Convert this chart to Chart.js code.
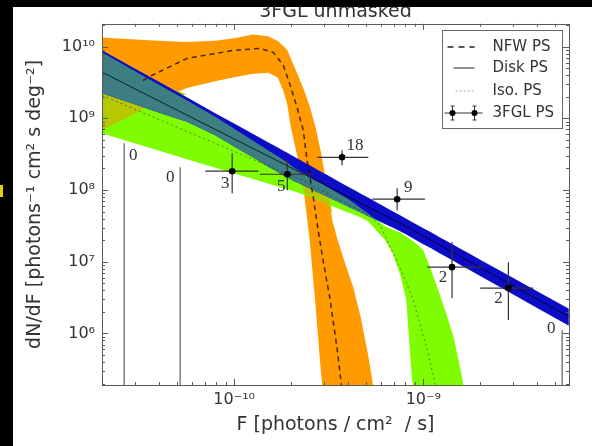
<!DOCTYPE html>
<html><head><meta charset="utf-8">
<script src="https://cdn.jsdelivr.net/npm/chart.js@4.4.1/dist/chart.umd.min.js"></script>
<style>html,body{margin:0;padding:0;background:#000;}canvas{display:block;}</style>
</head><body>
<canvas id="c" width="592" height="446"></canvas>
<script>
// ---------- axis ranges & ticks ----------
const xMin = 2.0e-11, xMax = 5.9e-9;
const yMin = 1.91e5, yMax = 2.08e10;
const xTickValues = [1e-10, 1e-9];
const xTickLabels = ['10\u207B\u00B9\u2070', '10\u207B\u2079'];
const yTickValues = [1e6, 1e7, 1e8, 1e9, 1e10];
const yTickLabels = ['10\u2076', '10\u2077', '10\u2078', '10\u2079', '10\u00B9\u2070'];

// ---------- common flux grid for the bands ----------
const gridX = [2.00e-11, 2.82e-11, 3.98e-11, 5.62e-11, 7.94e-11, 1.00e-10, 1.26e-10, 1.51e-10, 1.70e-10, 1.82e-10,
  1.91e-10, 2.00e-10, 2.09e-10, 2.19e-10, 2.34e-10, 2.51e-10, 2.69e-10, 2.88e-10, 3.09e-10, 3.31e-10,
  3.55e-10, 3.89e-10, 4.27e-10, 4.68e-10, 5.13e-10, 5.62e-10, 6.31e-10, 6.92e-10, 7.59e-10, 8.13e-10,
  8.71e-10, 9.33e-10, 1.00e-9, 1.10e-9, 1.20e-9, 1.32e-9, 1.45e-9, 1.58e-9, 1.74e-9, 2.00e-9,
  2.82e-9, 3.98e-9, 5.89e-9];

// NFW PS band (orange)
const nfwHi = [1.34e10, 1.27e10, 1.21e10, 1.16e10, 1.21e10, 1.31e10, 1.48e10, 1.40e10, 1.20e10, 1.02e10,
  8.88e9, 6.74e9, 5.08e9, 3.83e9, 2.49e9, 1.46e9, 7.71e8, 3.33e8, 1.14e8, 3.66e7,
  1.88e7, 9.00e6, 4.32e6, 1.64e6, 4.75e5, 1.06e5, 5e4, 5e4, 5e4, 5e4,
  5e4, 5e4, 5e4, 5e4, 5e4, 5e4, 5e4, 5e4, 5e4, 5e4,
  5e4, 5e4, 5e4];
const nfwLo = [6.81e8, 1.08e9, 1.77e9, 2.64e9, 3.30e9, 3.75e9, 4.18e9, 4.32e9, 3.70e9, 2.42e9,
  1.54e9, 7.23e8, 4.34e8, 2.48e8, 9.17e7, 1.98e7, 2.58e6, 2.78e5, 5e4, 5e4,
  5e4, 5e4, 5e4, 5e4, 5e4, 5e4, 5e4, 5e4, 5e4, 5e4,
  5e4, 5e4, 5e4, 5e4, 5e4, 5e4, 5e4, 5e4, 5e4, 5e4,
  5e4, 5e4, 5e4];

// Iso PS band (green)
const isoHi = [8.31e9, 4.97e9, 2.97e9, 1.78e9, 1.05e9, 7.14e8, 4.86e8, 3.58e8, 2.96e8, 2.62e8,
  2.42e8, 2.19e8, 2.03e8, 1.89e8, 1.70e8, 1.53e8, 1.37e8, 1.24e8, 1.12e8, 1.00e8,
  9.03e7, 7.84e7, 6.70e7, 5.58e7, 4.65e7, 3.87e7, 3.09e7, 2.80e7, 2.54e7, 2.24e7,
  1.97e7, 1.73e7, 1.45e7, 7.74e6, 4.03e6, 1.93e6, 8.77e5, 3.00e5, 8.04e4, 5e4,
  5e4, 5e4, 5e4];
const isoLo = [6.18e8, 4.69e8, 3.56e8, 2.69e8, 2.04e8, 1.70e8, 1.42e8, 1.23e8, 1.12e8, 1.06e8,
  1.02e8, 9.87e7, 9.50e7, 9.17e7, 8.57e7, 7.96e7, 7.40e7, 6.87e7, 6.40e7, 5.95e7,
  5.53e7, 5.02e7, 4.54e7, 4.13e7, 3.64e7, 2.77e7, 1.98e7, 1.27e7, 6.34e6, 2.92e6,
  2.39e5, 5e4, 5e4, 5e4, 5e4, 5e4, 5e4, 5e4, 5e4, 5e4,
  5e4, 5e4, 5e4];

// Disk PS band (blue)
const diskHi = [8.89e9, 5.37e9, 3.25e9, 1.96e9, 1.18e9, 8.46e8, 6.05e8, 4.62e8, 3.91e8, 3.53e8,
  3.30e8, 3.09e8, 2.89e8, 2.70e8, 2.44e8, 2.21e8, 1.99e8, 1.80e8, 1.63e8, 1.47e8,
  1.33e8, 1.16e8, 1.02e8, 8.90e7, 7.78e7, 6.80e7, 5.75e7, 5.03e7, 4.40e7, 3.97e7,
  3.59e7, 3.25e7, 2.94e7, 2.57e7, 2.24e7, 1.96e7, 1.71e7, 1.50e7, 1.31e7, 1.07e7,
  6.47e6, 3.91e6, 2.21e6];
const diskLo = [2.24e9, 1.65e9, 1.21e9, 8.93e8, 5.81e8, 4.06e8, 2.84e8, 2.13e8, 1.78e8, 1.60e8,
  1.49e8, 1.40e8, 1.32e8, 1.25e8, 1.15e8, 1.05e8, 9.65e7, 8.86e7, 8.12e7, 7.46e7,
  6.84e7, 6.10e7, 5.44e7, 4.85e7, 4.32e7, 3.85e7, 3.34e7, 2.98e7, 2.65e7, 2.39e7,
  2.16e7, 1.95e7, 1.76e7, 1.54e7, 1.34e7, 1.17e7, 1.02e7, 8.92e6, 7.78e6, 6.34e6,
  3.80e6, 2.28e6, 1.28e6];

// median curves
const nfwMedX = [3.30e-11, 3.59e-11, 5.64e-11, 9.88e-11, 1.37e-10, 1.61e-10, 1.82e-10, 1.98e-10, 2.15e-10,
  2.32e-10, 2.43e-10, 2.62e-10, 2.78e-10, 2.92e-10, 3.22e-10, 3.51e-10, 3.68e-10, 3.77e-10];
const nfwMedY = [3.36e9, 3.85e9, 6.85e9, 8.85e9, 9.44e9, 8.31e9, 5.47e9, 2.88e9, 1.42e9,
  6.81e8, 2.60e8, 7.94e7, 2.75e7, 1.24e7, 2.92e6, 5.87e5, 2.04e5, 1.01e5];
const diskMedX = [2.00e-11, 2.00e-10, 7.59e-10, 5.89e-9];
const diskMedY = [4.40e9, 2.05e8, 3.43e7, 1.71e6];
const isoMedX = [2.00e-11, 2.23e-10, 5.05e-10, 5.92e-10, 6.69e-10, 7.56e-10, 8.85e-10, 1.05e-9, 1.16e-9, 1.19e-9];
const isoMedY = [2.09e9, 1.41e8, 4.60e7, 3.23e7, 1.60e7, 8.14e6, 2.92e6, 5.87e5, 1.91e5, 8.58e4];

// 3FGL point sources (binned)
const binX = [2.62e-11, 5.18e-11, 9.76e-11, 1.91e-10, 3.72e-10, 7.28e-10, 1.42e-9, 2.82e-9, 5.43e-9];
const binLo = [null, null, 7.03e-11, 1.37e-10, 2.75e-10, 5.37e-10, 1.05e-9, 2.00e-9, null];
const binHi = [null, null, 1.34e-10, 2.62e-10, 5.12e-10, 1.02e-9, 2.08e-9, 3.82e-9, null];
const counts = [0, 0, 3, 5, 18, 9, 2, 2, 0];
const ptY = [null, null, 1.83e8, 1.66e8, 2.86e8, 7.45e7, 8.4e6, 4.29e6, null];
const errLo = [null, null, 9.0e7, 9.9e7, 2.21e8, 5.24e7, 3.11e6, 1.54e6, null];
const errHi = [4.49e8, 2.08e8, 3.26e8, 2.68e8, 3.58e8, 1.06e8, 1.88e7, 9.87e6, 1.11e6];

const legendLabels = ['NFW PS', 'Disk PS', 'Iso. PS', '3FGL PS'];

// ---------- styles ----------
const labelDX = [9, -10, -7, -6, 13, 11, -9, -10, -11];
const labelDY = [12, 10, 12, 12, -12, -12, 10, 10, -2];
const C = {orange:'#ff9a00', lime:'#80fc00', olive:'#b6c800', blue:'#0c0cc6', teal:'#3c7e82'};

// ---------- derived tables ----------
const pts = (xs, ys) => xs.map((x, i) => ({x, y: ys[i]}));
function overlap(aHi, aLo, bHi, bLo) {
  const hi = [], lo = [];
  for (let i = 0; i < gridX.length; i++) {
    let h = Math.min(aHi[i], bHi[i]), l = Math.max(aLo[i], bLo[i]);
    if (h < l) { const m = Math.sqrt(h * l); h = m; l = m; }
    hi.push(h); lo.push(l);
  }
  return {hi, lo};
}
const teal = overlap(diskHi, diskLo, isoHi, isoLo);
const olive = overlap(nfwHi, nfwLo, isoHi, isoLo);

const errData = [], zeroData = [], ptData = [];
binX.forEach((bx, i) => {
  if (counts[i] === 0) {
    zeroData.push({x: bx, y: yMin / 3}, {x: bx, y: errHi[i]}, {x: bx, y: null});
  } else {
    errData.push({x: bx, y: errLo[i]}, {x: bx, y: errHi[i]}, {x: bx, y: null},
                 {x: binLo[i], y: ptY[i]}, {x: binHi[i], y: ptY[i]}, {x: binHi[i], y: null});
    ptData.push({x: bx, y: ptY[i]});
  }
});

const band = (data, color, order, fillPrev) => ({
  data, order, borderColor: 'rgba(0,0,0,0)', borderWidth: 0, pointRadius: 0,
  fill: fillPrev ? '-1' : false, backgroundColor: color || 'rgba(0,0,0,0)'
});

const datasets = [
  band(pts(gridX, nfwHi), null, 100, false),
  band(pts(gridX, nfwLo), C.orange, 99, true),
  band(pts(gridX, isoHi), null, 98, false),
  band(pts(gridX, isoLo), C.lime, 97, true),
  band(pts(gridX, olive.hi), null, 96, false),
  band(pts(gridX, olive.lo), C.olive, 95, true),
  band(pts(gridX, diskHi), null, 94, false),
  band(pts(gridX, diskLo), C.blue, 93, true),
  band(pts(gridX, teal.hi), null, 92, false),
  band(pts(gridX, teal.lo), C.teal, 91, true),
  {data: pts(nfwMedX, nfwMedY), order: 50, borderColor: 'rgba(40,20,0,0.85)', borderWidth: 1.5, borderDash: [5, 4], pointRadius: 0, fill: false},
  {data: pts(diskMedX, diskMedY), order: 49, borderColor: 'rgba(0,0,0,0.75)', borderWidth: 1, pointRadius: 0, fill: false},
  {data: pts(isoMedX, isoMedY), order: 48, borderColor: 'rgba(40,40,40,0.55)', borderWidth: 1, borderDash: [2, 3], pointRadius: 0, fill: false},
  {data: zeroData, order: 20, borderColor: '#808080', borderWidth: 1.5, pointRadius: 0, fill: false, spanGaps: false},
  {data: errData, order: 10, borderColor: '#333', borderWidth: 1.2, pointRadius: 0, fill: false, spanGaps: false},
  {data: ptData, order: 5, showLine: false, pointRadius: 3.3, pointBackgroundColor: '#000', pointBorderColor: '#000', pointBorderWidth: 0, fill: false}
];

const deco = {
  id: 'deco',
  beforeDraw(chart) {
    const {ctx, width, height} = chart;
    ctx.save(); ctx.fillStyle = '#fff'; ctx.fillRect(0, 0, width, height); ctx.restore();
  },
  afterDatasetsDraw(chart) {
    const {ctx, chartArea: ca, scales} = chart;
    const xs = scales.x, ys = scales.y;
    ctx.save();
    ctx.strokeStyle = '#5a5a5a'; ctx.lineWidth = 1;
    const ticks = (scale, horiz) => {
      const lo = Math.floor(Math.log10(scale.min)), hi = Math.ceil(Math.log10(scale.max));
      for (let e = lo; e <= hi; e++) for (let m = 1; m <= 9; m++) {
        const v = m * Math.pow(10, e);
        if (v < scale.min || v > scale.max) continue;
        const p = Math.round(scale.getPixelForValue(v)) + 0.5;
        const L = m === 1 ? 6 : 3;
        ctx.beginPath();
        if (horiz) { ctx.moveTo(p, ca.bottom); ctx.lineTo(p, ca.bottom - L); ctx.moveTo(p, ca.top); ctx.lineTo(p, ca.top + L); }
        else { ctx.moveTo(ca.left, p); ctx.lineTo(ca.left + L, p); ctx.moveTo(ca.right, p); ctx.lineTo(ca.right - L, p); }
        ctx.stroke();
      }
    };
    ticks(xs, true); ticks(ys, false);
    ctx.strokeRect(Math.round(ca.left) + 0.5, Math.round(ca.top) + 0.5, Math.round(ca.right - ca.left), Math.round(ca.bottom - ca.top));

    // count labels
    ctx.fillStyle = '#333'; ctx.font = '17px "Liberation Serif", serif';
    ctx.textAlign = 'center'; ctx.textBaseline = 'middle';
    binX.forEach((bx, i) => {
      const ay = counts[i] === 0 ? errHi[i] : ptY[i];
      const px = xs.getPixelForValue(bx) + labelDX[i];
      const py = ys.getPixelForValue(ay) + labelDY[i];
      ctx.fillText(String(counts[i]), px, py);
    });

    // legend
    const bx = Math.round(ca.right) - 127 + 0.5, by = Math.round(ca.top) + 6.5, bw = 120, bh = 98;
    ctx.fillStyle = '#fff'; ctx.fillRect(bx, by, bw, bh);
    ctx.strokeStyle = '#666'; ctx.lineWidth = 1; ctx.strokeRect(bx, by, bw, bh);
    const rows = [by + 16.5, by + 37.5, by + 60.5, by + 82.5];
    const sx = bx + 5, tx = bx + 50;
    ctx.lineWidth = 1.5; ctx.strokeStyle = '#222'; ctx.setLineDash([6, 5]);
    ctx.beginPath(); ctx.moveTo(sx, rows[0]); ctx.lineTo(sx + 27, rows[0]); ctx.stroke();
    ctx.setLineDash([]); ctx.lineWidth = 1;
    ctx.beginPath(); ctx.moveTo(sx + 6, rows[1]); ctx.lineTo(sx + 27, rows[1]); ctx.stroke();
    ctx.strokeStyle = '#aaa'; ctx.setLineDash([2, 2]);
    ctx.beginPath(); ctx.moveTo(sx + 8, rows[2]); ctx.lineTo(sx + 27, rows[2]); ctx.stroke();
    ctx.setLineDash([]); ctx.strokeStyle = '#333';
    ctx.beginPath(); ctx.moveTo(sx - 3, rows[3]); ctx.lineTo(sx + 35, rows[3]); ctx.stroke();
    [sx + 5, sx + 27].forEach(mx => {
      ctx.beginPath();
      ctx.moveTo(mx, rows[3] - 7); ctx.lineTo(mx, rows[3] + 7);
      ctx.moveTo(mx - 2, rows[3] - 7); ctx.lineTo(mx + 2, rows[3] - 7);
      ctx.moveTo(mx - 2, rows[3] + 7); ctx.lineTo(mx + 2, rows[3] + 7);
      ctx.stroke();
      ctx.fillStyle = '#000'; ctx.beginPath(); ctx.arc(mx, rows[3], 3, 0, 2 * Math.PI); ctx.fill();
    });
    ctx.fillStyle = '#333'; ctx.font = '15px "DejaVu Sans", sans-serif';
    ctx.textAlign = 'left'; ctx.textBaseline = 'middle';
    legendLabels.forEach((t, i) => ctx.fillText(t, tx, rows[i]));
    ctx.restore();
  },
  afterDraw(chart) {
    const {ctx, width, height} = chart;
    ctx.save();
    ctx.fillStyle = '#000';
    ctx.fillRect(0, 0, width, 7);
    ctx.fillRect(0, 0, 13, height);
    ctx.fillStyle = '#e8d000';
    ctx.fillRect(0, 185, 3, 12);
    ctx.restore();
  }
};

const font16 = {family: 'DejaVu Sans', size: 16};
new Chart(document.getElementById('c'), {
  type: 'line',
  data: {datasets},
  options: {
    responsive: false, animation: false, devicePixelRatio: 1, events: [],
    layout: {padding: {left: 0, right: 23, top: 0, bottom: 0}},
    plugins: {
      legend: {display: false}, tooltip: {enabled: false},
      title: {display: true, text: '3FGL unmasked', fullSize: false, color: '#333',
              font: {family: 'DejaVu Sans', size: 19, weight: 'normal'}, padding: {top: 1, bottom: 0}}
    },
    scales: {
      x: {
        type: 'logarithmic', min: xMin, max: xMax, bounds: 'data',
        afterBuildTicks: s => { s.ticks = xTickValues.map(v => ({value: v})); },
        afterFit: s => { s.height = 61; },
        grid: {display: false, drawTicks: false}, border: {display: false},
        ticks: {autoSkip: false, maxRotation: 0, padding: 5, color: '#333', font: font16,
                callback: (v, i) => xTickLabels[i]},
        title: {display: true, text: 'F [photons / cm\u00B2  / s]', color: '#333',
                font: {family: 'DejaVu Sans', size: 19}, padding: {top: 0, bottom: 10}}
      },
      y: {
        type: 'logarithmic', min: yMin, max: yMax, bounds: 'data',
        afterBuildTicks: s => { s.ticks = yTickValues.map(v => ({value: v})); },
        afterFit: s => { s.width = 102; },
        grid: {display: false, drawTicks: false}, border: {display: false},
        ticks: {autoSkip: false, padding: 7, color: '#333', font: font16,
                callback: (v, i) => yTickLabels[i]},
        title: {display: true, text: 'dN/dF [photons\u207B\u00B9 cm\u00B2 s deg\u207B\u00B2]', color: '#333',
                font: {family: 'DejaVu Sans', size: 19}, padding: {top: 24, bottom: 0}}
      }
    }
  },
  plugins: [deco]
});
</script>
</body></html>
